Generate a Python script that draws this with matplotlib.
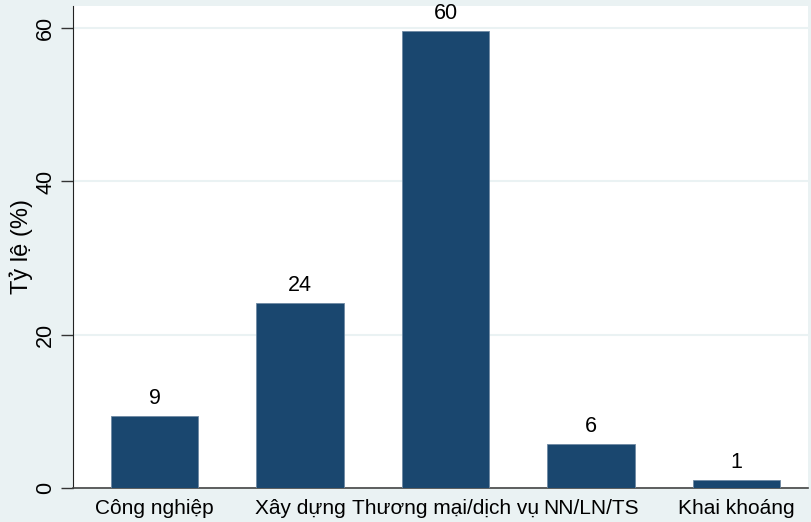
import matplotlib.pyplot as plt

plt.rcParams['font.family'] = ['Liberation Sans', 'DejaVu Sans']

# Data
categories = ['Công nghiệp', 'Xây dựng', 'Thương mại/dịch vụ', 'NN/LN/TS', 'Khai khoáng']
values = [9.4, 24.2, 59.6, 5.7, 1.1]
y_ticks = [0, 20, 40, 60]

bg = '#EAF2F3'
bar_color = '#1A476F'

fig = plt.figure(figsize=(8.12, 5.22), dpi=100, facecolor=bg)
ax = fig.add_axes([73 / 812, 34 / 522, 735 / 812, 482 / 522])
ax.set_facecolor('white')

x = list(range(len(categories)))
bars = ax.bar(x, values, width=0.6, color=bar_color, edgecolor='#6f8aa3',
              linewidth=0.6, zorder=3)

for xi, v in zip(x, values):
    ax.text(xi, v + 0.9, f'{v:.0f}', ha='center', va='bottom', fontsize=15.5)

ax.set_xlim(-0.56, 4.49)
ax.set_ylim(0, 62.9)
ax.set_xticks(x)
ax.set_xticklabels(categories, fontsize=15)
ax.tick_params(axis='x', length=0, pad=8)
ax.set_yticks(y_ticks)
ax.set_yticklabels([str(t) for t in y_ticks], rotation=90, va='center', fontsize=15.5)
ax.tick_params(axis='y', length=9, width=1, color='#333333', pad=3)
ax.grid(axis='y', color=bg, linewidth=1.5, zorder=0)

ax.set_ylabel('Tỷ lệ (%)', fontsize=17, labelpad=2)

for s in ['top', 'right']:
    ax.spines[s].set_visible(False)
ax.spines['left'].set_color('#222222')
ax.spines['bottom'].set_color('#444444')
ax.spines['bottom'].set_linewidth(1.2)

fig.savefig('out.png', dpi=100, facecolor=bg)
